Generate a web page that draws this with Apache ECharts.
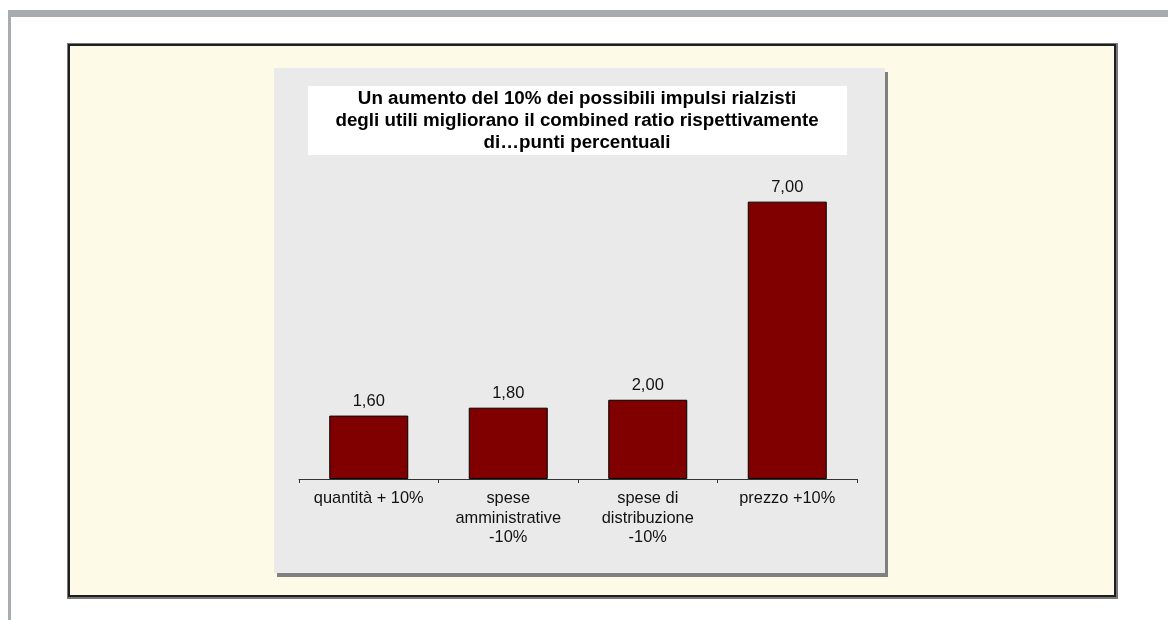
<!DOCTYPE html>
<html>
<head>
<meta charset="utf-8">
<script src="https://cdn.jsdelivr.net/npm/echarts@6/dist/echarts.min.js"></script>
<style>
  html, body { margin: 0; padding: 0; background: #fff; }
  #chart { width: 1168px; height: 620px; }
</style>
</head>
<body>
<div id="chart"></div>
<script>
var categories = ['quantità + 10%', 'spese\namministrative\n-10%', 'spese di\ndistribuzione\n-10%', 'prezzo +10%'];
var values = [1.6, 1.8, 2.0, 7.0];
var titleText = 'Un aumento del 10% dei possibili impulsi rialzisti\ndegli utili migliorano il combined ratio rispettivamente\ndi…punti percentuali';

var myChart = echarts.init(document.getElementById('chart'));

var option = {
  animation: false,
  textStyle: { fontFamily: 'Liberation Sans, Arial, sans-serif' },
  graphic: [
    // page frame
    { type: 'rect', z: -20, shape: { x: 8, y: 10, width: 1160, height: 7 }, style: { fill: '#a9acaf' } },
    { type: 'rect', z: -20, shape: { x: 8, y: 10, width: 3, height: 610 }, style: { fill: '#a9acaf' } },
    // cream panel
    { type: 'rect', z: -19, shape: { x: 67, y: 43, width: 1051, height: 556 }, style: { fill: '#777' } },
    { type: 'rect', z: -18, shape: { x: 69, y: 45, width: 1046, height: 551 }, style: { fill: '#fefae8', stroke: '#1e1e1e', lineWidth: 2 } },
    // chart area + shadow
    { type: 'rect', z: -17, shape: { x: 277, y: 72, width: 611, height: 505 }, style: { fill: '#808080' } },
    { type: 'rect', z: -16, shape: { x: 274, y: 68, width: 611, height: 505 }, style: { fill: '#eaeaea' } },
    // title box
    { type: 'rect', z: -15, shape: { x: 308, y: 86, width: 539, height: 69 }, style: { fill: '#ffffff' } }
  ],
  title: {
    text: titleText,
    left: 577,
    top: 88,
    textAlign: 'center',
    padding: 0,
    textStyle: {
      fontFamily: 'Liberation Sans, Arial, sans-serif',
      fontSize: 18.8,
      fontWeight: 'bold',
      color: '#000',
      lineHeight: 22
    }
  },
  grid: {
    left: 299,
    right: 311,
    top: 162,
    bottom: 141
  },
  xAxis: {
    type: 'category',
    data: categories,
    axisLine: { lineStyle: { color: '#333', width: 1 } },
    axisTick: { show: true, length: 4, lineStyle: { color: '#333' } },
    axisLabel: {
      interval: 0,
      margin: 10,
      color: '#111',
      fontSize: 16.4,
      lineHeight: 19.5,
      align: 'center'
    }
  },
  yAxis: {
    type: 'value',
    min: 0,
    max: 8,
    show: false,
    splitLine: { show: false }
  },
  series: [
    {
      type: 'bar',
      data: values,
      barWidth: 79,
      itemStyle: {
        color: '#800000',
        borderColor: '#000',
        borderWidth: 1
      },
      label: {
        show: true,
        position: 'top',
        distance: 6,
        fontSize: 16.5,
        color: '#111',
        formatter: function (p) { return p.value.toFixed(2).replace('.', ','); }
      }
    }
  ]
};

myChart.setOption(option);
</script>
</body>
</html>
